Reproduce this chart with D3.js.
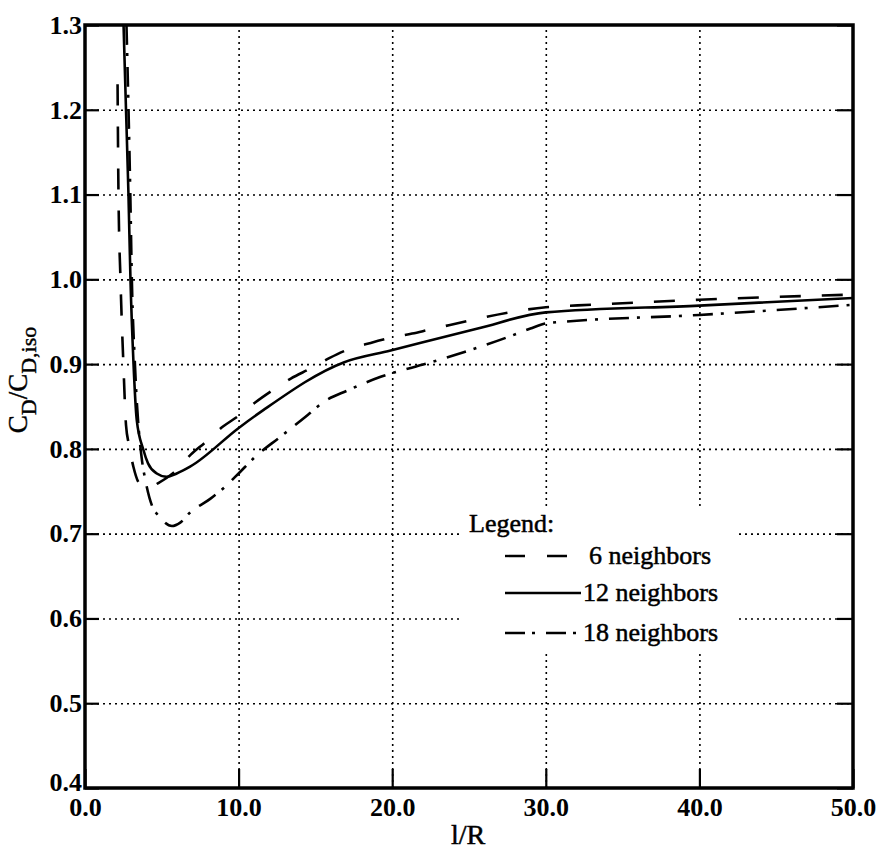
<!DOCTYPE html>
<html>
<head>
<meta charset="utf-8">
<script src="https://cdn.jsdelivr.net/npm/d3@7"></script>
<style>
  body { margin: 0; background: #fff; }
  svg { font-family: "Liberation Serif", "Times New Roman", serif; }
</style>
</head>
<body>
<div id="chart"></div>
<script>
// values: [l/R, CD/CD,iso]
const n6 = [[2.12,1.23],[2.18,1.1],[2.31,1.0],[2.5,0.9],[2.67,0.828],[2.86,0.805],[3.15,0.779],[3.6,0.758],
  [4.2,0.755],[4.8,0.76],[5.77,0.772],[6.87,0.793],[7.85,0.808],[8.96,0.826],[10.0,0.839],[11.1,0.855],
  [12.2,0.869],[13.4,0.883],[14.7,0.895],[15.9,0.907],[17.1,0.917],[18.6,0.925],[19.9,0.931],[21.3,0.936],
  [22.5,0.941],[30,0.967],[33,0.970],[40,0.976],[50,0.982]];
const n12 = [[2.51,1.3],[2.67,1.2],[2.83,1.1],[2.96,1.0],[3.16,0.9],[3.37,0.834],[3.8,0.799],[4.1,0.783],
  [4.67,0.771],[5.32,0.767],[5.97,0.771],[6.84,0.779],[10.03,0.825],[11.63,0.846],[16.84,0.902],
  [19.9,0.916],[25.57,0.942],[30,0.961],[40,0.969],[50,0.978]];
const n18 = [[2.7,1.3],[2.95,1.1],[3.05,1.0],[3.25,0.9],[3.72,0.785],[3.9,0.766],[4.43,0.73],[4.75,0.722],
  [5.66,0.709],[6.2,0.713],[6.84,0.725],[8.15,0.741],[9.1,0.755],[10.0,0.771],[11.1,0.791],[12.7,0.814],
  [14.5,0.84],[15.5,0.855],[17.1,0.869],[19.25,0.885],[22.5,0.902],[24.65,0.914],[27.7,0.933],[29,0.942],
  [30,0.948],[31.2,0.950],[40,0.958],[50,0.970]];

const xTicks = [0, 10, 20, 30, 40, 50];
const yTicks = [0.4, 0.5, 0.6, 0.7, 0.8, 0.9, 1.0, 1.1, 1.2, 1.3];
const seriesNames = ['6 neighbors', '12 neighbors', '18 neighbors'];

const width = 876, height = 850;
const margin = {top: 25, right: 23, bottom: 62, left: 85};
const w = width - margin.left - margin.right;
const h = height - margin.top - margin.bottom;

const dashes = ['21,21', null, '20,8,3,11'];

const x = d3.scaleLinear().domain([0, 50]).range([0, w]);
const y = d3.scaleLinear().domain([0.4, 1.3]).range([h, 0]);

const svg = d3.select('#chart').append('svg')
  .attr('width', width)
  .attr('height', height);

const g = svg.append('g').attr('transform', `translate(${margin.left},${margin.top})`);

// dotted grid
g.append('g')
  .attr('class', 'grid')
  .attr('transform', `translate(0,${h})`)
  .call(d3.axisBottom(x).tickValues(xTicks.slice(1, -1)).tickSize(-h).tickFormat(''));
g.append('g')
  .attr('class', 'grid')
  .call(d3.axisLeft(y).tickValues(yTicks.slice(1, -1)).tickSize(-w).tickFormat(''));
g.selectAll('.grid .domain').remove();
g.selectAll('.grid line')
  .attr('stroke', '#000')
  .attr('stroke-width', 1.6)
  .attr('stroke-dasharray', '2,4');

// solid inward ticks
const tk = [
  g.append('g').attr('transform', `translate(0,${h})`).call(d3.axisBottom(x).tickValues(xTicks).tickSize(-19).tickFormat('')),
  g.append('g').call(d3.axisLeft(y).tickValues(yTicks).tickSize(-14).tickFormat('')),
  g.append('g').attr('transform', `translate(${w},0)`).call(d3.axisRight(y).tickValues(yTicks).tickSize(-16).tickFormat(''))
];
tk.forEach(a => {
  a.select('.domain').remove();
  a.selectAll('line').attr('stroke', '#000').attr('stroke-width', 2.2);
});

// tick labels
const xl = g.append('g')
  .attr('transform', `translate(0,${h})`)
  .call(d3.axisBottom(x).tickValues(xTicks).tickSize(0).tickPadding(10).tickFormat(d3.format('.1f')));
const yl = g.append('g')
  .call(d3.axisLeft(y).tickValues(yTicks).tickSize(0).tickPadding(3).tickFormat(d3.format('.1f')));
[xl, yl].forEach(a => {
  a.select('.domain').remove();
  a.selectAll('text')
    .attr('fill', '#000')
    .style('font-family', '"Liberation Serif", serif')
    .style('font-size', '26px')
    .style('font-weight', 'bold');
});
// lowest label sits a little higher, as in the original
yl.selectAll('.tick').filter(d => d === 0.4).select('text').attr('y', -6);

// legend box hides the grid
g.append('rect')
  .attr('x', 462 - margin.left).attr('y', 509 - margin.top)
  .attr('width', 275).attr('height', 141)
  .attr('fill', '#fff');

// curves
g.append('clipPath').attr('id', 'clip')
  .append('rect').attr('width', w).attr('height', h);

const line = d3.line()
  .x(d => x(d[0]))
  .y(d => y(d[1]))
  .curve(d3.curveMonotoneX);

[n6, n12, n18].forEach((s, i) => {
  g.append('path')
    .datum(s)
    .attr('clip-path', 'url(#clip)')
    .attr('fill', 'none')
    .attr('stroke', '#000')
    .attr('stroke-width', 2.6)
    .attr('stroke-dasharray', dashes[i])
    .attr('d', line);
});

// frame
g.append('rect')
  .attr('width', w).attr('height', h)
  .attr('fill', 'none')
  .attr('stroke', '#000')
  .attr('stroke-width', 3.5);

// legend
const lg = svg.append('g')
  .style('font-size', '26px')
  .attr('stroke', '#000')
  .attr('stroke-width', 0.5);
lg.append('text').attr('x', 469).attr('y', 532).text('Legend:');
const rows = [{y: 556, ty: 564, tx: 589}, {y: 593, ty: 601, tx: 583}, {y: 633, ty: 641, tx: 583}];
seriesNames.forEach((name, i) => {
  lg.append('line')
    .attr('x1', 505).attr('x2', i === 0 ? 567 : 581)
    .attr('y1', rows[i].y).attr('y2', rows[i].y)
    .attr('stroke-width', 2.4)
    .attr('stroke-dasharray', dashes[i] === null ? null : (i === 0 ? '20,22' : '20,7,3,11'));
  lg.append('text').attr('x', rows[i].tx).attr('y', rows[i].ty).text(name);
});

// axis titles
svg.append('text')
  .attr('x', 468).attr('y', 844)
  .attr('text-anchor', 'middle')
  .attr('stroke', '#000').attr('stroke-width', 0.5)
  .style('font-size', '28px')
  .text('l/R');

const yt = svg.append('text')
  .attr('transform', 'translate(27,380) rotate(-90)')
  .attr('text-anchor', 'middle')
  .attr('stroke', '#000').attr('stroke-width', 0.4)
  .style('font-size', '27px');
yt.append('tspan').text('C');
yt.append('tspan').attr('dy', 9).style('font-size', '22px').text('D');
yt.append('tspan').attr('dy', -9).text('/C');
yt.append('tspan').attr('dy', 9).style('font-size', '22px').text('D,iso');
</script>
</body>
</html>
